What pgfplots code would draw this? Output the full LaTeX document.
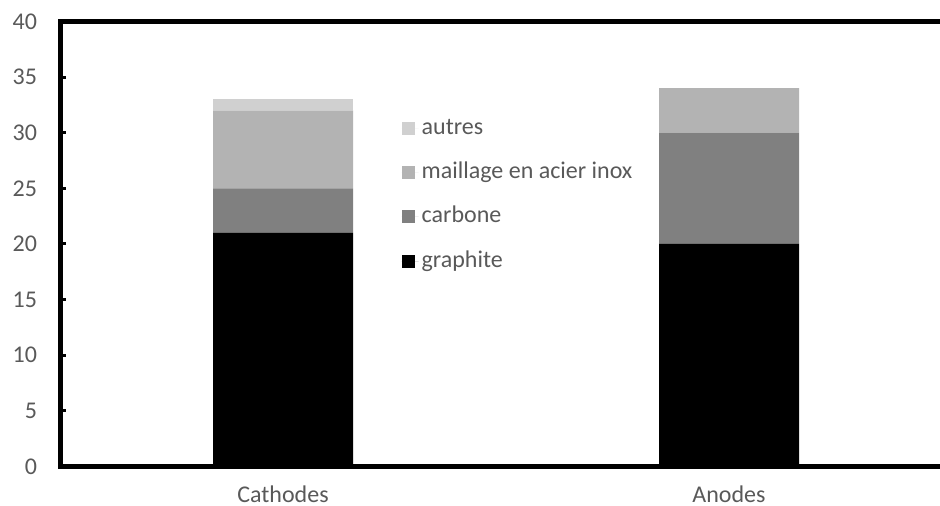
\documentclass[border=0pt]{standalone}
\usepackage{pgfplots}
\pgfplotsset{compat=1.18}
\usepackage{fontspec}
\setmainfont{Carlito}
\definecolor{txt}{HTML}{595959}
\definecolor{cgraph}{HTML}{000000}
\definecolor{ccarb}{HTML}{808080}
\definecolor{cmaill}{HTML}{B3B3B3}
\definecolor{cautres}{HTML}{D0D0D0}
\pgfplotsset{sq/.style={legend image code/.code={\fill[##1,draw=none] (0pt,-3.25pt) rectangle (6.5pt,3.25pt);\path (0pt,0pt) -- (8.5pt,0pt);}}}
\begin{document}
\begin{tikzpicture}
\begin{axis}[
  at={(0,0)}, anchor=south west,
  scale only axis, width=440pt, height=222.5pt,
  ybar stacked, bar width=70pt,
  xmin=-0.5, xmax=1.4731,
  ymin=0, ymax=40,
  xtick={0,1}, xticklabels={Cathodes,Anodes},
  ytick={0,5,...,40},
  ytick pos=left,
  major tick length=3pt,
  tick align=inside,
  x tick style={draw=none},
  y tick style={line width=1.5pt, black},
  axis line style={draw=none},
  ticklabel style={font=\fontsize{12}{14}\selectfont, text=txt},
  /pgf/number format/assume math mode=true,
  yticklabel style={xshift=-8pt},
  xticklabel style={yshift=-6pt},
  legend style={draw=none, fill=none, at={(0.381,0.802)}, anchor=north west,
    font=\fontsize{12}{14}\selectfont, text=txt, row sep=8.2pt,
    nodes={inner sep=1.5pt, text height=8.5pt, text depth=2.5pt}},
  legend cell align=left,
  reverse legend,
  clip=false,
]
\addplot[fill=cgraph, draw=none, sq] coordinates {(0,21) (1,20)};
\addplot[fill=ccarb, draw=none, sq] coordinates {(0,4) (1,10)};
\addplot[fill=cmaill, draw=none, sq] coordinates {(0,7) (1,4)};
\addplot[fill=cautres, draw=none, sq] coordinates {(0,1) (1,0)};
\legend{graphite,carbone,maillage en acier inox,autres}
\draw[line width=2.5pt, black] (rel axis cs:1,1) -- (rel axis cs:0,1) -- (rel axis cs:0,0) -- (rel axis cs:1,0);
\end{axis}
\pgfresetboundingbox
\path[use as bounding box] (-30pt,-19.75pt) rectangle (440pt,233.25pt);
\end{tikzpicture}
\end{document}
